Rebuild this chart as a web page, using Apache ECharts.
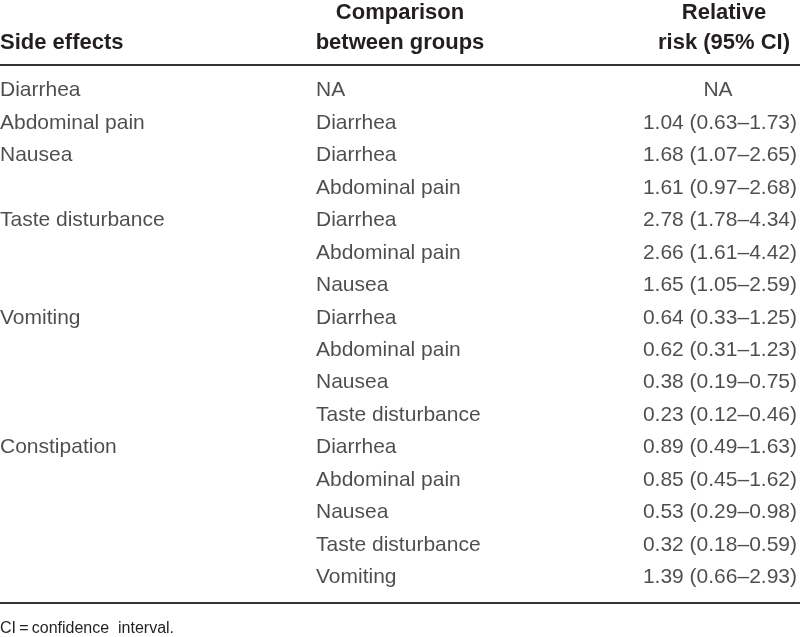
<!DOCTYPE html>
<html>
<head>
<meta charset="utf-8">
<script src="https://cdn.jsdelivr.net/npm/echarts@6/dist/echarts.min.js"></script>
<style>html,body{margin:0;padding:0;background:#fff}#c{width:800px;height:637px}</style>
</head>
<body>
<div id="c"></div>
<script>
// ---- data ----
const headerSide = ['Side effects'];
const headerComparison = ['Comparison', 'between groups'];
const headerRisk = ['Relative', 'risk (95% CI)'];
const sideEffects = ['Diarrhea', 'Abdominal pain', 'Nausea', '', 'Taste disturbance', '', '', 'Vomiting', '', '', '', 'Constipation', '', '', '', ''];
const comparisons = ['NA', 'Diarrhea', 'Diarrhea', 'Abdominal pain', 'Diarrhea', 'Abdominal pain', 'Nausea', 'Diarrhea', 'Abdominal pain', 'Nausea', 'Taste disturbance', 'Diarrhea', 'Abdominal pain', 'Nausea', 'Taste disturbance', 'Vomiting'];
const relativeRisk = [null, 1.04, 1.68, 1.61, 2.78, 2.66, 1.65, 0.64, 0.62, 0.38, 0.23, 0.89, 0.85, 0.53, 0.32, 1.39];
const ciLow = [null, 0.63, 1.07, 0.97, 1.78, 1.61, 1.05, 0.33, 0.31, 0.19, 0.12, 0.49, 0.45, 0.29, 0.18, 0.66];
const ciHigh = [null, 1.73, 2.65, 2.68, 4.34, 4.42, 2.59, 1.25, 1.23, 0.75, 0.46, 1.63, 1.62, 0.98, 0.59, 2.93];
const footnote = 'CI\u2009=\u2009confidence  interval.';

// ---- layout ----
const FONT = "'Liberation Sans', Arial, sans-serif";
const TXT = '#231f20';
const COL1_X = 0, COL2_X = 316, COL3_X = 797, COL3_NA_X = 718;
const rows = sideEffects.map((_, i) => String(i));

function fmtRisk(i) {
  if (relativeRisk[i] == null) return 'NA';
  return relativeRisk[i].toFixed(2) + ' (' + ciLow[i].toFixed(2) + '\u2013' + ciHigh[i].toFixed(2) + ')';
}
const bodyLabel = { show: true, color: TXT, fontFamily: FONT, fontSize: 21, distance: 0 };

const s1 = sideEffects.map((t, i) => ({ value: [COL1_X, i], name: t }));
const s2 = comparisons.map((t, i) => ({ value: [COL2_X, i], name: t }));
const s3 = relativeRisk.map((v, i) => v == null
  ? { value: [COL3_NA_X, i], name: fmtRisk(i), label: { position: 'inside' } }
  : { value: [COL3_X, i], name: fmtRisk(i) });

const chart = echarts.init(document.getElementById('c'), null, { renderer: 'canvas' });
const mkSeries = (data, pos) => ({
  type: 'scatter', data, symbolSize: 0, silent: true,
  itemStyle: { color: 'rgba(0,0,0,0)' },
  label: Object.assign({}, bodyLabel, { position: pos, formatter: p => p.name })
});
const hdr = (text, x, y, align) => ({
  type: 'text', x, y,
  style: { text, font: 'bold 22px ' + FONT, fill: TXT, textAlign: align, textVerticalAlign: 'middle' }
});
chart.setOption({
  animation: false,
  backgroundColor: '#fff',
  grid: { left: 0, right: 0, top: 74.3, bottom: 43.3 },
  xAxis: { type: 'value', min: 0, max: 800, show: false },
  yAxis: { type: 'category', data: rows, inverse: true, show: false, boundaryGap: true },
  series: [mkSeries(s1, 'right'), mkSeries(s2, 'right'), mkSeries(s3, 'left')],
  graphic: [
    hdr(headerSide[0], 0, 43, 'left'),
    hdr(headerComparison[0], 400, 13, 'center'),
    hdr(headerComparison[1], 400, 43, 'center'),
    hdr(headerRisk[0], 724, 13, 'center'),
    hdr(headerRisk[1], 724, 43, 'center'),
    { type: 'line', shape: { x1: 0, y1: 65, x2: 800, y2: 65 }, style: { stroke: '#333', lineWidth: 2 } },
    { type: 'line', shape: { x1: 0, y1: 603, x2: 800, y2: 603 }, style: { stroke: '#333', lineWidth: 2 } },
    { type: 'text', x: 0, y: 629, style: { text: footnote, font: '16px ' + FONT, fill: TXT, textVerticalAlign: 'middle' } }
  ]
});
</script>
</body>
</html>
